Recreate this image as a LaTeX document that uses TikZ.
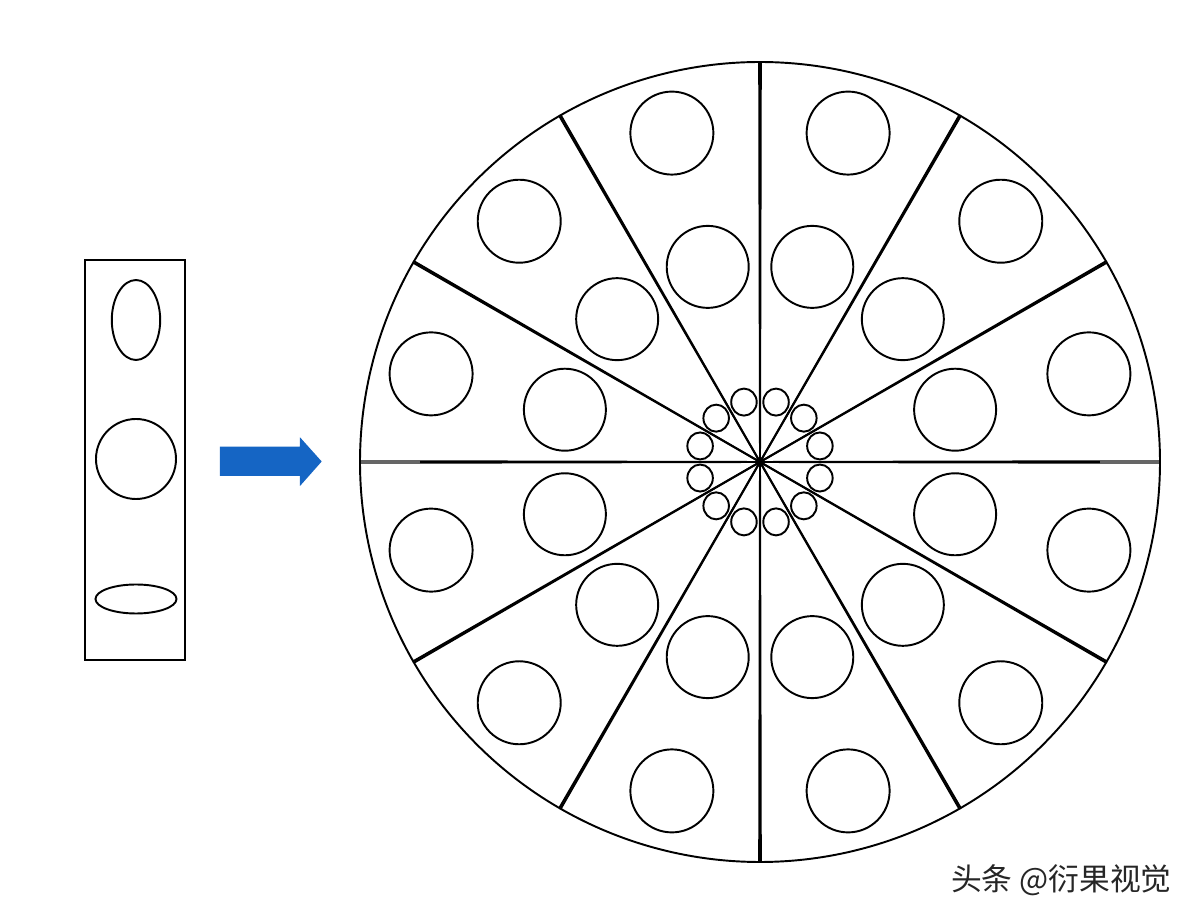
\documentclass[tikz,border=0pt]{standalone}
\usepackage{fontspec}
\newfontfamily\cjk{Noto Sans CJK SC}
\definecolor{arrowblue}{RGB}{21,101,196}
\begin{document}
\begin{tikzpicture}[
  ln/.style={line width=1.1pt, black},
  sector/.style={ln, line join=miter},
]
\useasboundingbox (-15.2,-9.16) rectangle (8.8,9.24);
% left strip
\node[draw, line width=1.1pt, minimum width=2cm, minimum height=8cm, inner sep=0pt] (strip) at (-12.5,0.04) {};
\draw[ln] (-12.48,2.84) ellipse [x radius=0.484cm, y radius=0.8cm];
\draw[ln] (-12.48,0.06) circle [radius=0.8cm];
\draw[ln] (-12.48,-2.74) ellipse [x radius=0.81cm, y radius=0.29cm];
% arrow
\fill[arrowblue] (-10.8,0.306) -- (-9.2,0.306) -- (-9.2,0.494) -- (-8.766,0.01) -- (-9.2,-0.48) -- (-9.2,-0.28) -- (-10.8,-0.28) -- cycle;
\coordinate (c) at (0,0);
% sectors
\foreach \k in {0,...,11}{
  \pgfmathsetmacro{\a}{\k*30+0.12}
  \pgfmathsetmacro{\b}{\k*30+30-0.12}
  \draw[sector] (c) -- (\a:8cm) arc[start angle=\a, end angle=\b, radius=8cm] -- cycle;
  \pgfmathsetmacro{\m}{\k*30+15}
  \draw[ln] (\m:6.81cm) circle [radius=0.83cm];
  \draw[ln] (\m:4.04cm) circle [radius=0.82cm];
  \draw[ln] (\m:1.24cm) ellipse [x radius=0.255cm, y radius=0.27cm];
}
% darker grey thicker ends of the horizontal line
\draw[line width=2.4pt, black!60] (-7.98,0) -- (-6.8,0);
\draw[line width=2.4pt, black!60] (6.8,0) -- (7.98,0);
\fill (c) circle [radius=0.09cm];
% watermark
\node[anchor=east, text=black!85, font=\cjk\fontsize{17.5}{19}\selectfont, inner sep=0pt] (wm) at (8.24,-8.36) {头条 @衍果视觉};
\end{tikzpicture}
\end{document}
